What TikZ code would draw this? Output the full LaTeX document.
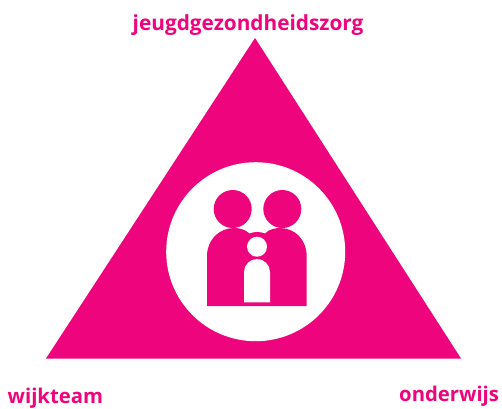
\documentclass[tikz,border=0pt]{standalone}
\usepackage{fontspec}
\setmainfont{Open Sans}
\definecolor{roze}{HTML}{EE047D}
\tikzset{
  lbl/.style={text=roze,font=\fontsize{20.3pt}{24pt}\selectfont\bfseries,inner sep=0pt,anchor=base west},
  lbltop/.style={lbl,font=\fontsize{20.8pt}{24pt}\selectfont\bfseries},
  pink/.style={fill=roze,draw=none},
  wit/.style={fill=white,draw=none}
}
\begin{document}
\begin{tikzpicture}[x=1pt,y=-1pt]
\useasboundingbox (0,0) rectangle (502,408);
\fill[white] (0,0) rectangle (502,408);
\path[pink] (255,38) -- (461,358.5) -- (46,358.5) -- cycle;
\path[wit] (255.7,251.7) circle[radius=89.5];
\path[pink] (232.7,209) circle[radius=19];
\path[pink] (282.3,209) circle[radius=19];
\path[pink] (207,306) -- (207,256) .. controls (207,240) and (219,228) .. (234,228)
  .. controls (238,228) and (245,229) .. (249.5,233.5)
  .. controls (254,231.5) and (260,231.5) .. (265,233.5)
  .. controls (269,229) and (276,228) .. (280,228)
  .. controls (295,228) and (306.7,240) .. (306.7,256) -- (306.7,306) -- cycle;
\path[wit] (257,246.7) circle[radius=10];
\path[wit] (244,302.3) -- (244,272) arc[start angle=180,end angle=360,radius=13] -- (270,302.3) -- cycle;
\node[lbltop] (top) at (132.5,30) {jeugdgezondheidszorg};
\node[lbl] (left) at (7.5,403.3) {wijkteam};
\node[lbl] (right) at (399,401.5) {onderwijs};
\end{tikzpicture}
\end{document}
